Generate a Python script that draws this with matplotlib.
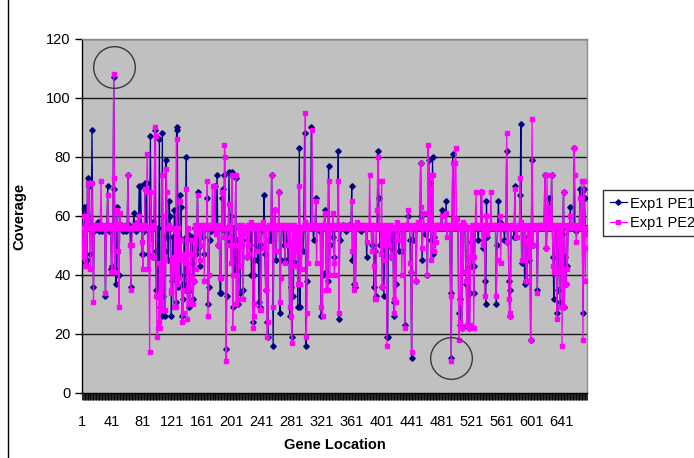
import matplotlib
matplotlib.use("Agg")
import matplotlib.pyplot as plt
from matplotlib.lines import Line2D
import numpy as np

plt.rcParams['font.family'] = ['Liberation Sans', 'DejaVu Sans']

# coverage per gene location (25 locations per row)
exp1_pe1 = [
    52, 53, 63, 44, 56, 63, 45, 73, 56, 70, 56, 47, 56, 89, 56, 36, 55, 56, 57, 56, 56, 58, 56, 55, 56,
    57, 56, 55, 56, 56, 56, 33, 56, 57, 70, 56, 55, 56, 56, 42, 43, 56, 107, 69, 42, 37, 56, 63, 40, 40,
    56, 56, 57, 56, 55, 56, 56, 56, 55, 56, 57, 74, 57, 56, 55, 36, 56, 56, 56, 61, 56, 56, 55, 56, 56,
    56, 70, 56, 70, 56, 47, 47, 56, 55, 71, 56, 71, 56, 47, 56, 56, 87, 56, 56, 46, 58, 56, 89, 48, 35,
    33, 56, 36, 86, 29, 33, 26, 88, 33, 53, 48, 26, 79, 53, 56, 45, 65, 60, 56, 26, 38, 53, 40, 62, 56,
    31, 90, 89, 36, 53, 67, 40, 63, 26, 37, 32, 52, 35, 53, 80, 35, 54, 40, 29, 35, 52, 44, 53, 32, 38,
    56, 56, 47, 56, 68, 49, 56, 43, 56, 55, 56, 53, 56, 47, 56, 56, 56, 66, 30, 36, 52, 56, 55, 56, 56,
    56, 56, 70, 56, 56, 74, 56, 50, 56, 34, 34, 56, 66, 69, 55, 74, 56, 15, 33, 56, 52, 75, 56, 51, 60,
    75, 29, 56, 52, 41, 73, 30, 52, 30, 56, 56, 34, 56, 52, 56, 35, 56, 56, 56, 55, 46, 52, 56, 50, 56,
    56, 40, 56, 24, 45, 40, 56, 50, 56, 45, 56, 31, 56, 29, 50, 56, 55, 56, 67, 47, 35, 56, 24, 19, 52,
    56, 56, 52, 74, 56, 16, 56, 62, 56, 45, 56, 56, 56, 68, 27, 45, 56, 56, 56, 50, 56, 45, 56, 52, 56,
    45, 56, 26, 56, 36, 19, 56, 33, 56, 44, 56, 49, 56, 29, 56, 83, 29, 56, 56, 56, 48, 56, 88, 56, 16,
    38, 56, 56, 56, 56, 56, 90, 56, 56, 52, 56, 56, 66, 56, 56, 56, 56, 55, 56, 26, 56, 40, 56, 56, 62,
    56, 41, 56, 38, 77, 56, 50, 56, 56, 56, 53, 46, 56, 56, 56, 56, 56, 82, 25, 56, 52, 56, 56, 57, 56,
    56, 56, 55, 56, 56, 56, 57, 56, 56, 56, 70, 45, 56, 37, 56, 36, 56, 56, 56, 56, 56, 56, 56, 55, 56,
    56, 56, 56, 56, 56, 46, 56, 56, 56, 56, 56, 56, 50, 56, 56, 36, 48, 33, 56, 56, 82, 66, 56, 50, 56,
    56, 36, 56, 33, 56, 52, 56, 19, 19, 56, 54, 56, 46, 56, 49, 56, 31, 26, 56, 37, 56, 56, 56, 48, 56,
    56, 56, 48, 56, 56, 56, 23, 56, 56, 56, 60, 56, 56, 52, 41, 12, 56, 52, 56, 56, 56, 38, 56, 56, 56,
    56, 56, 78, 60, 45, 56, 56, 56, 54, 56, 56, 40, 56, 79, 56, 71, 52, 56, 80, 47, 53, 56, 56, 56, 56,
    56, 56, 56, 56, 56, 62, 56, 56, 56, 56, 56, 65, 56, 56, 56, 56, 56, 34, 12, 56, 81, 56, 56, 56, 56,
    56, 56, 56, 27, 32, 23, 56, 22, 56, 41, 56, 56, 56, 37, 23, 56, 43, 22, 34, 51, 43, 56, 56, 34, 43,
    56, 56, 56, 56, 52, 56, 56, 56, 68, 56, 49, 56, 56, 38, 30, 65, 53, 56, 56, 56, 56, 56, 56, 56, 56,
    56, 56, 56, 30, 50, 56, 65, 56, 58, 56, 56, 56, 56, 56, 52, 56, 56, 82, 51, 56, 38, 26, 35, 56, 56,
    56, 56, 53, 70, 53, 56, 56, 56, 56, 56, 67, 91, 44, 56, 56, 56, 37, 56, 38, 38, 56, 53, 45, 56, 18,
    56, 79, 50, 56, 56, 56, 56, 56, 35, 56, 56, 56, 56, 56, 56, 56, 56, 56, 74, 56, 49, 56, 56, 56, 66,
    56, 56, 74, 56, 46, 32, 56, 56, 56, 27, 35, 56, 56, 31, 54, 56, 54, 56, 68, 29, 46, 37, 56, 43, 56,
    56, 56, 63, 56, 56, 56, 56, 83, 56, 56, 55, 56, 56, 56, 56, 69, 56, 68, 56, 27, 69, 66, 56, 56, 56,
]
exp1_pe2 = [
    46, 56, 60, 43, 56, 60, 43, 71, 56, 71, 56, 42, 56, 71, 56, 31, 56, 57, 56, 56, 57, 56, 56, 57, 56,
    72, 56, 56, 57, 56, 56, 34, 56, 56, 67, 57, 56, 57, 56, 41, 41, 56, 108, 73, 41, 56, 57, 62, 48, 29,
    61, 57, 56, 56, 56, 57, 56, 56, 56, 57, 56, 74, 56, 56, 50, 35, 50, 56, 56, 57, 56, 57, 56, 58, 56,
    57, 60, 56, 57, 56, 51, 42, 56, 57, 69, 69, 68, 81, 42, 56, 14, 68, 56, 57, 46, 57, 56, 90, 87, 33,
    19, 22, 24, 44, 22, 44, 28, 74, 28, 60, 45, 28, 76, 68, 56, 56, 57, 56, 34, 35, 45, 44, 29, 46, 56,
    29, 86, 37, 56, 39, 65, 45, 52, 24, 35, 27, 47, 44, 47, 69, 25, 56, 36, 30, 31, 47, 52, 39, 30, 38,
    56, 57, 42, 56, 67, 54, 56, 45, 57, 50, 56, 57, 56, 38, 56, 57, 56, 72, 26, 40, 56, 57, 57, 56, 70,
    57, 56, 70, 56, 54, 56, 57, 50, 56, 39, 39, 56, 68, 56, 53, 84, 80, 11, 50, 56, 56, 64, 57, 53, 44,
    74, 22, 40, 50, 50, 74, 30, 40, 32, 56, 57, 43, 56, 50, 57, 32, 56, 54, 56, 56, 46, 50, 57, 47, 56,
    58, 56, 57, 22, 30, 26, 56, 56, 57, 48, 56, 52, 57, 28, 28, 56, 58, 56, 49, 56, 35, 56, 19, 24, 56,
    57, 56, 57, 74, 56, 29, 56, 62, 57, 48, 56, 56, 56, 68, 31, 39, 56, 57, 56, 56, 57, 44, 56, 57, 56,
    50, 56, 29, 57, 26, 17, 56, 46, 57, 43, 56, 48, 56, 37, 56, 70, 37, 56, 42, 56, 56, 57, 58, 95, 19,
    27, 56, 44, 57, 56, 57, 56, 89, 56, 56, 57, 56, 65, 44, 56, 57, 56, 56, 57, 29, 56, 26, 57, 56, 61,
    57, 35, 56, 35, 72, 56, 40, 56, 57, 56, 61, 44, 40, 56, 57, 56, 57, 72, 27, 56, 56, 57, 56, 56, 57,
    57, 56, 56, 57, 56, 56, 56, 57, 56, 56, 65, 48, 56, 35, 57, 37, 56, 58, 57, 56, 56, 57, 56, 56, 57,
    57, 56, 57, 56, 56, 51, 56, 57, 56, 74, 56, 57, 48, 56, 57, 43, 32, 32, 56, 62, 80, 72, 57, 56, 47,
    72, 36, 57, 50, 56, 45, 56, 16, 56, 57, 50, 56, 46, 57, 56, 56, 32, 27, 56, 31, 57, 58, 56, 52, 56,
    57, 56, 40, 56, 57, 56, 22, 57, 56, 57, 62, 56, 57, 44, 41, 14, 56, 56, 57, 56, 56, 38, 57, 58, 56,
    57, 56, 78, 63, 49, 56, 61, 56, 56, 57, 56, 40, 84, 56, 57, 74, 45, 56, 74, 50, 48, 57, 51, 56, 57,
    57, 56, 57, 56, 56, 60, 56, 57, 56, 57, 56, 61, 53, 56, 57, 56, 57, 33, 11, 56, 78, 56, 58, 78, 83,
    56, 59, 57, 18, 24, 31, 56, 22, 58, 41, 56, 56, 57, 38, 23, 56, 44, 22, 23, 56, 46, 57, 56, 22, 46,
    57, 68, 56, 57, 56, 56, 57, 56, 68, 68, 50, 56, 57, 33, 56, 60, 54, 57, 56, 56, 57, 68, 56, 57, 56,
    57, 56, 57, 33, 45, 56, 56, 57, 60, 44, 56, 57, 56, 56, 57, 56, 57, 88, 51, 56, 32, 27, 26, 57, 56,
    57, 56, 56, 69, 53, 56, 53, 56, 57, 56, 73, 58, 45, 56, 57, 56, 45, 56, 38, 38, 57, 52, 46, 56, 18,
    57, 93, 50, 56, 57, 56, 56, 57, 34, 56, 57, 56, 57, 56, 57, 56, 56, 57, 74, 56, 49, 74, 56, 57, 63,
    57, 56, 74, 57, 43, 41, 56, 57, 56, 25, 41, 56, 57, 29, 56, 56, 16, 57, 68, 29, 42, 37, 56, 42, 57,
    57, 56, 60, 56, 57, 57, 56, 83, 74, 56, 51, 56, 57, 56, 56, 66, 56, 72, 56, 18, 72, 49, 38, 54, 56,
]
tick_labels = list(range(1, 642, 40))
# circled outliers (location, coverage)
circled = [(43, 110.5), (493, 12)]

locations = np.arange(1, len(exp1_pe1) + 1)

fig = plt.figure(figsize=(6.94, 4.58), dpi=100)
ax = fig.add_axes([0.118, 0.142, 0.728, 0.773])
ax.set_facecolor('#C0C0C0')

for v in range(20, 121, 20):
    ax.axhline(v, color='#1a1a1a', lw=1.0, zorder=1)

ax.plot(locations, exp1_pe1, color='#000080', lw=0.9, marker='D', ms=2.8,
        mec='#000080', mfc='#000080', label='Exp1 PE1', zorder=3)
ax.plot(locations, exp1_pe2, color='#FF00FF', lw=0.9, marker='s', ms=3.2,
        mec='#FF00FF', mfc='#FF00FF', label='Exp1 PE2', zorder=4)

for cx, cy in circled:
    ax.plot(cx, cy, 'o', ms=30, mfc='none', mec='#3a3a3a', mew=1.0, zorder=5)

ax.set_xlim(0.5, len(locations) + 0.5)
ax.set_ylim(0, 120)
ax.set_yticks(range(0, 121, 20))
ax.set_xticks(tick_labels)
ax.set_xticks(locations, minor=True)
ax.tick_params(axis='x', which='both', length=5, width=0.6, direction='out',
               color='black', labelsize=10.5, pad=11)
ax.tick_params(axis='y', length=5, width=1, direction='out', labelsize=10.5, pad=3)

ax.spines['left'].set_color('black')
ax.spines['bottom'].set_color('black')
ax.spines['top'].set_color('#8c8c8c')
ax.spines['right'].set_color('#8c8c8c')
for s in ax.spines.values():
    s.set_linewidth(1.0)

ax.set_xlabel('Gene Location', fontsize=10.5, fontweight='bold', labelpad=6)
ax.set_ylabel('Coverage', fontsize=10.5, fontweight='bold', labelpad=14)

# legend box runs past the right edge, as in the original screenshot
fig.legend(loc='upper left', bbox_to_anchor=(603 / 694, 1 - 190 / 458),
           frameon=True, fancybox=False, edgecolor='black', fontsize=10.5,
           handlelength=1.2, handletextpad=0.2, borderpad=0.45, labelspacing=0.35,
           borderaxespad=0)

fig.add_artist(Line2D([8 / 694, 8 / 694], [0, 1], color='black', lw=1.0))

fig.savefig('out.png', dpi=100)
